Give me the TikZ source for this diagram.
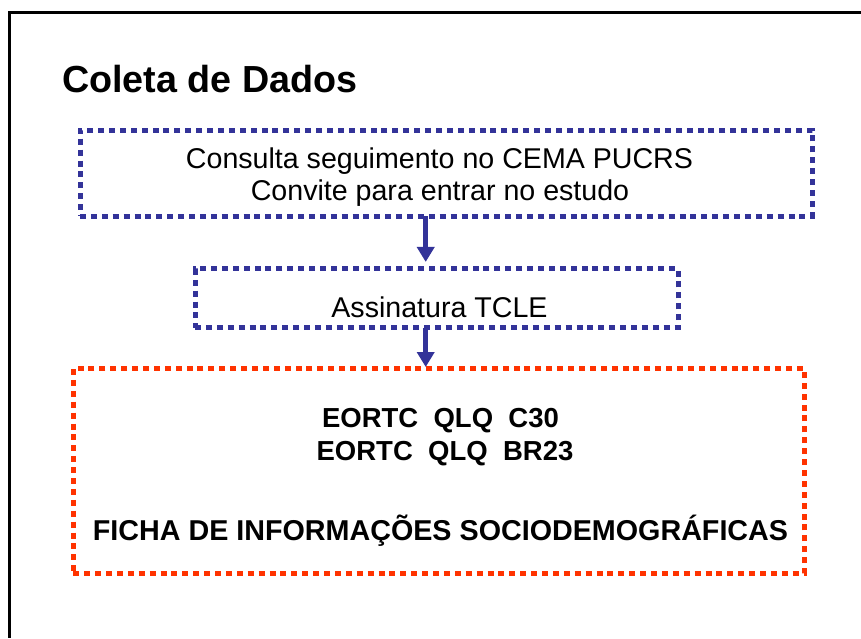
\documentclass[tikz,border=0pt]{standalone}
\usepackage{fontspec}
\setmainfont{Liberation Sans}
\usetikzlibrary{arrows.meta}
\definecolor{boxblue}{HTML}{333399}
\definecolor{boxred}{HTML}{FF3300}
\begin{document}
\begin{tikzpicture}[x=1pt,y=-1pt,
  dotbox/.style={draw, rectangle, line width=5pt, dash pattern=on 6pt off 4.9pt, inner sep=0pt, outer sep=0pt},
  txt/.style={anchor=base, inner sep=0pt, font=\fontsize{28.6}{32}\selectfont},
  btxt/.style={anchor=base, inner sep=0pt, font=\fontsize{28.7}{32}\selectfont\bfseries},
  arr/.style={draw=boxblue, line width=5.5pt, -{Triangle[width=17pt,length=15pt]}}
]
\useasboundingbox (0,0) rectangle (861,638);
% frame
\draw[line width=3pt] (861,12.5) -- (9.5,12.5) -- (9.5,638);
% title
\node[anchor=base west, inner sep=0pt, font=\fontsize{37.7}{40}\selectfont\bfseries] (title) at (62,92) {Coleta de Dados};
% boxes
\node[dotbox, draw=boxblue, minimum width=732pt, minimum height=86pt] (b1) at (446,173) {};
\node[dotbox, draw=boxblue, minimum width=483pt, minimum height=58.7pt] (b2) at (436.5,298.3) {};
\node[dotbox, draw=boxred, minimum width=731pt, minimum height=205pt] (b3) at (438.8,470.8) {};
% texts
\node[txt] (t1) at (439.5,168) {Consulta seguimento no CEMA PUCRS};
\node[txt] (t2) at (440,200) {Convite para entrar no estudo};
\node[txt] (t3) at (439.5,317) {Assinatura TCLE};
\node[btxt, font=\fontsize{27.5}{32}\selectfont\bfseries] (t4) at (440.5,427) {EORTC~~QLQ~~C30};
\node[btxt, font=\fontsize{27.5}{32}\selectfont\bfseries] (t5) at (445,460) {EORTC~~QLQ~~BR23};
\node[btxt] (t6) at (440.5,540) {FICHA DE INFORMAÇÕES SOCIODEMOGRÁFICAS};
% arrows
\coordinate (ax) at (425.7,0);
\draw[arr, shorten >=7pt] (b1.south -| ax) -- (b2.north -| ax);
\draw[arr, shorten >=1.3pt] (b2.south -| ax) -- (b3.north -| ax);
\end{tikzpicture}
\end{document}
